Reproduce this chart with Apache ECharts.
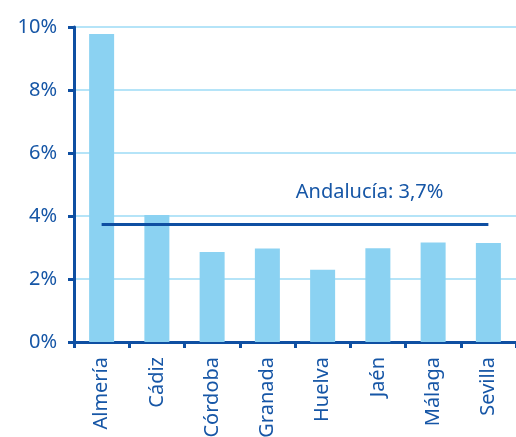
<!DOCTYPE html>
<html>
<head>
    <meta charset="UTF-8">
    <title>Andalucía por provincias</title>
    <script src="https://cdn.jsdelivr.net/npm/echarts/dist/echarts.min.js"></script>
</head>
<body style="margin:0">
    <div id="chart" style="width: 516px; height: 437px;"></div>
    <script type="text/javascript">
        // datos
        var provincias = ['Almería', 'Cádiz', 'Córdoba', 'Granada', 'Huelva', 'Jaén', 'Málaga', 'Sevilla'];
        var valores = [9.78, 4.03, 2.86, 2.97, 2.29, 2.98, 3.16, 3.14];
        var mediaAndalucia = 3.73;
        var mediaTexto = 'Andalucía: 3,7%';

        var azulOscuro = '#0e4fa2';
        var azulTexto = '#1656a6';
        var azulBarra = '#8bd2f2';
        var azulRejilla = '#b5e4f8';
        var fuente = 'Noto Sans';

        var myChart = echarts.init(document.getElementById('chart'));

        var option = {
            animation: false,
            grid: { left: 74, right: 0, top: 27, bottom: 95, outerBoundsMode: 'none' },
            xAxis: {
                type: 'category',
                data: provincias,
                axisLine: { lineStyle: { color: azulOscuro, width: 3 } },
                axisTick: { show: true, length: 6, lineStyle: { color: azulOscuro, width: 3 } },
                axisLabel: {
                    rotate: 90,
                    margin: 15,
                    color: azulTexto,
                    fontSize: 20,
                    fontFamily: fuente
                }
            },
            yAxis: {
                type: 'value',
                min: 0,
                max: 10,
                interval: 2,
                axisLine: { show: true, lineStyle: { color: azulOscuro, width: 3 } },
                axisTick: { show: true, length: 6, lineStyle: { color: azulOscuro, width: 3 } },
                axisLabel: {
                    formatter: '{value}%',
                    margin: 17,
                    color: azulTexto,
                    fontSize: 20,
                    fontFamily: fuente
                },
                splitLine: { lineStyle: { color: azulRejilla, width: 2 } }
            },
            series: [{
                type: 'bar',
                data: valores,
                barWidth: 25,
                itemStyle: { color: azulBarra },
                markLine: {
                    symbol: 'none',
                    silent: true,
                    lineStyle: { color: azulOscuro, width: 3, type: 'solid' },
                    label: {
                        position: 'insideEndTop',
                        distance: [45, 22],
                        formatter: mediaTexto,
                        color: azulTexto,
                        fontSize: 20,
                        fontFamily: fuente
                    },
                    data: [[
                        { xAxis: provincias[0], yAxis: mediaAndalucia },
                        { xAxis: provincias[provincias.length - 1], yAxis: mediaAndalucia }
                    ]]
                }
            }]
        };

        myChart.setOption(option);
    </script>
</body>
</html>
